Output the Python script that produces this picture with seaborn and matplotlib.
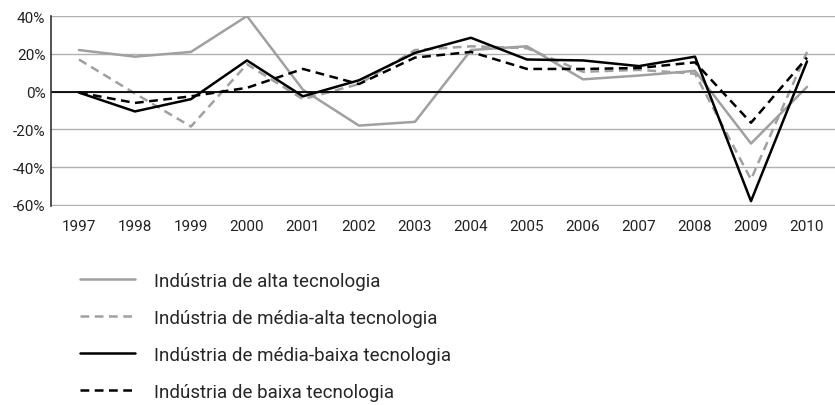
import matplotlib
matplotlib.use("Agg")
import matplotlib.pyplot as plt
import seaborn as sns
import pandas as pd

# Data (annual growth, %)
years = [str(y) for y in range(1997, 2011)]
alta = [22, 18.5, 21, 40, 1, -18, -16, 22, 24, 6.5, 8.5, 11, -27.5, 2.5]
media_alta = [17, -1, -18.5, 14.5, -4, 4, 22, 24, 23, 10.5, 11.5, 9.5, -46.5, 21]
media_baixa = [-0.5, -10.5, -4, 16.5, -2.5, 6, 20.5, 28.5, 17, 16.5, 13.5, 18.5, -58, 16]
baixa = [-0.5, -6, -2.5, 2, 12, 4, 18, 21, 12, 12, 12.5, 15.5, -16.5, 18]

labels = [
    "Indústria de alta tecnologia",
    "Indústria de média-alta tecnologia",
    "Indústria de média-baixa tecnologia",
    "Indústria de baixa tecnologia",
]

sns.set_style("white")
plt.rcParams["font.family"] = ["Roboto", "DejaVu Sans"]

fig = plt.figure(figsize=(8.35, 4.06), dpi=100)
ax = fig.add_axes([0.061, 0.49, 0.939, 0.468])

series = [
    (alta, "#a0a0a0", "-"),
    (media_alta, "#a0a0a0", (0, (3.5, 2.2))),
    (media_baixa, "black", "-"),
    (baixa, "black", (0, (3.5, 2.2))),
]
for (vals, color, ls), lab in zip(series, labels):
    df = pd.DataFrame({"ano": years, "valor": vals})
    sns.lineplot(data=df, x="ano", y="valor", ax=ax, color=color,
                 linestyle=ls, linewidth=1.8, label=lab)

ax.set_xlim(-0.5, len(years) - 0.5)
ax.set_ylim(-60.6, 40)
ax.set_yticks([-60, -40, -20, 0, 20, 40])
ax.set_yticklabels([f"{v}%" for v in [-60, -40, -20, 0, 20, 40]])
ax.yaxis.grid(True, color="#b0b0b0", linewidth=1)
ax.axhline(0, color="black", linewidth=1.3)
ax.set_xlabel("")
ax.set_ylabel("")
ax.tick_params(axis="both", length=0, labelsize=11, colors="#222222")
ax.tick_params(axis="x", pad=9)
ax.tick_params(axis="y", pad=4)
for s in ["top", "right", "bottom"]:
    ax.spines[s].set_visible(False)
ax.spines["left"].set_color("#333333")
ax.spines["left"].set_linewidth(1.2)

handles, labs = ax.get_legend_handles_labels()
ax.get_legend().remove()
fig.legend(handles, labs, loc="upper left", bbox_to_anchor=(0.087, 0.347),
           frameon=False, fontsize=13.5, handlelength=2.95, handletextpad=1.0,
           labelspacing=1.02, borderaxespad=0)

fig.savefig("out.png", dpi=100)
